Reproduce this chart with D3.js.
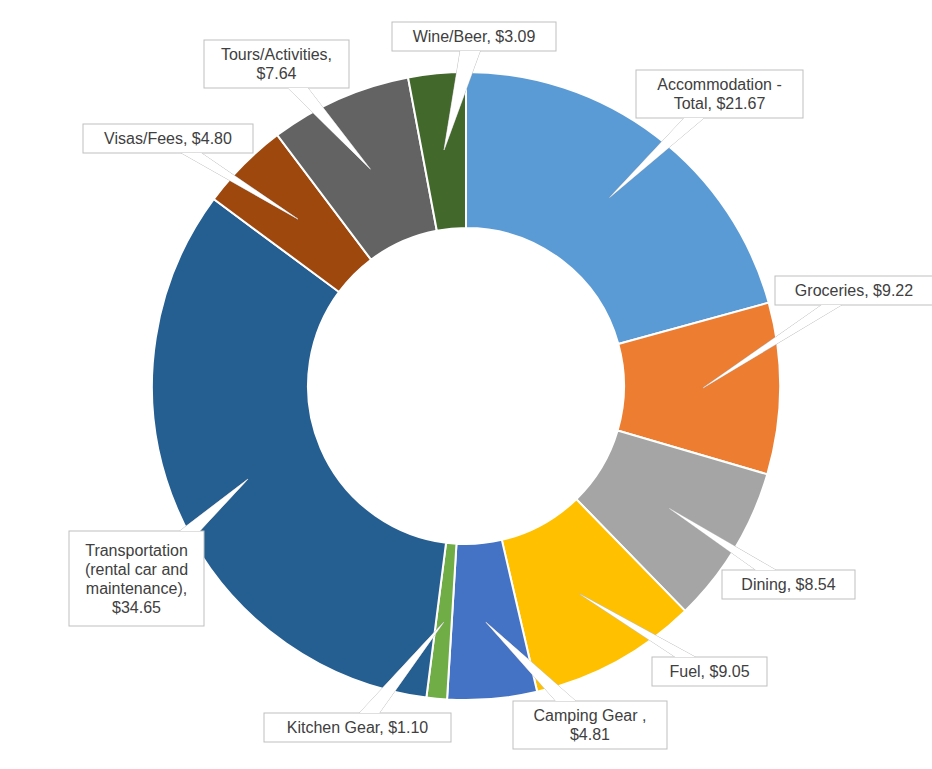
<!DOCTYPE html>
<html>
<head>
<meta charset="utf-8">
<script src="https://d3js.org/d3.v7.min.js"></script>
<style>
  body { margin: 0; background: #fff; }
  text { font-family: "Liberation Sans", Arial, sans-serif; font-size: 16px; fill: #404040; }
</style>
</head>
<body>
<svg id="chart" width="932" height="769"></svg>
<script>
const categories = ['Accommodation - Total', 'Groceries', 'Dining', 'Fuel', 'Camping Gear ',
  'Kitchen Gear', 'Transportation (rental car and maintenance)', 'Visas/Fees', 'Tours/Activities', 'Wine/Beer'];
const values = [21.67, 9.22, 8.54, 9.05, 4.81, 1.10, 34.65, 4.80, 7.64, 3.09];
const colors = ['#5b9bd5', '#ed7d31', '#a5a5a5', '#ffc000', '#4472c4', '#70ad47', '#255e91', '#9e480e', '#636363', '#43682b'];
// label text lines
const labelLines = [
  ['Accommodation -', 'Total,  $21.67'],
  ['Groceries,  $9.22'],
  ['Dining,  $8.54'],
  ['Fuel,  $9.05'],
  ['Camping Gear ,', '$4.81'],
  ['Kitchen Gear,  $1.10'],
  ['Transportation', '(rental car and', 'maintenance),', '$34.65'],
  ['Visas/Fees,  $4.80'],
  ['Tours/Activities,', '$7.64'],
  ['Wine/Beer,  $3.09']
];
// label box layout [x, y, w, h]
const labelBoxes = [
  [636, 70, 167, 48], [775, 276, 158, 29], [722, 570, 133, 29], [652, 657, 115, 29],
  [513, 701, 154, 48], [264, 713, 187, 29], [69, 531, 135, 95], [83, 124, 170, 29],
  [204, 40, 145, 48], [392, 22, 164, 29]
];

const svg = d3.select('#chart');
const cx = 466, cy = 386, rOuter = 314, rInner = 158;
const g = svg.append('g').attr('transform', `translate(${cx} ${cy})`);

const pie = d3.pie().sort(null).value(d => d.v);
const arcs = pie(values.map((v, i) => ({ v, i })));
const arc = d3.arc().innerRadius(rInner).outerRadius(rOuter);

g.selectAll('path.slice').data(arcs).join('path')
  .attr('class', 'slice')
  .attr('d', arc)
  .attr('fill', d => colors[d.data.i])
  .attr('stroke', '#fff')
  .attr('stroke-width', 2);

const tipArc = d3.arc().innerRadius(237).outerRadius(237);

function pointer(b, tip) {
  const [x, y, w, h] = b;
  const bx = x + w / 2, by = y + h / 2;
  const dx = tip[0] - bx, dy = tip[1] - by;
  const t = Math.min(Math.abs((w / 2) / (dx || 1e-6)), Math.abs((h / 2) / (dy || 1e-6)));
  const px = bx + dx * t, py = by + dy * t;
  const half = 10;
  let a, c;
  if (Math.abs(Math.abs(px - bx) - w / 2) < 0.5) {
    const yy = Math.max(y + half, Math.min(y + h - half, py));
    a = [px, yy - half]; c = [px, yy + half];
  } else {
    const xx = Math.max(x + half, Math.min(x + w - half, px));
    a = [xx - half, py]; c = [xx + half, py];
  }
  return `M${a[0]},${a[1]}L${tip[0]},${tip[1]}L${c[0]},${c[1]}Z`;
}

const labels = svg.append('g');
arcs.forEach(d => {
  const i = d.data.i;
  const b = labelBoxes[i];
  const c = tipArc.centroid(d);
  const tip = [c[0] + cx, c[1] + cy];
  const p = pointer(b, tip);
  labels.append('path').attr('d', p).attr('fill', '#fff').attr('stroke', '#bfbfbf');
  labels.append('rect').attr('x', b[0]).attr('y', b[1]).attr('width', b[2]).attr('height', b[3])
    .attr('fill', '#fff').attr('stroke', '#bfbfbf');
  labels.append('path').attr('d', p).attr('fill', '#fff').attr('stroke', 'none')
    .attr('transform', 'translate(0,0)');
  const lines = labelLines[i];
  const lh = 19;
  const y0 = b[1] + b[3] / 2 - (lines.length - 1) * lh / 2;
  const txt = labels.append('text').attr('text-anchor', 'middle');
  lines.forEach((l, k) => {
    txt.append('tspan').attr('x', b[0] + b[2] / 2).attr('y', y0 + k * lh).attr('dy', '0.35em').text(l);
  });
});
</script>
</body>
</html>
